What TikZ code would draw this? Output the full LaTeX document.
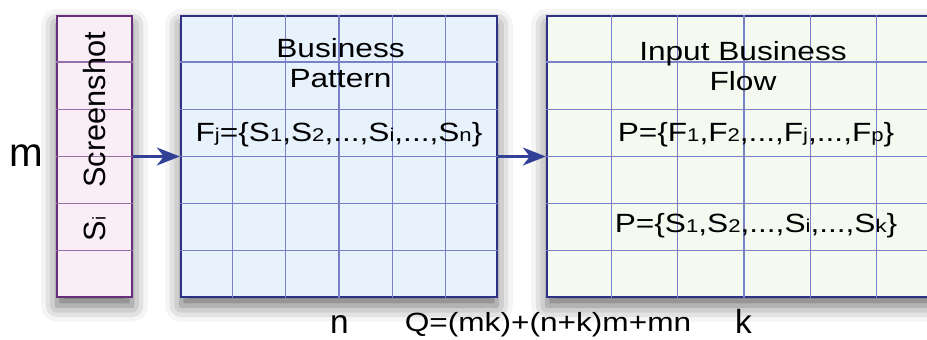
\documentclass[tikz,border=0pt]{standalone}
\usepackage{fontspec}
\setmainfont{Liberation Sans}[FakeStretch=1.2]
\newfontfamily\plainfont{Liberation Sans}
\usepackage{tikz}
\usepackage{xcolor}
\usetikzlibrary{arrows.meta, calc, shadows.blur}
\definecolor{shotfill}{RGB}{250, 238, 246}
\definecolor{shotline}{RGB}{105, 45, 125}
\definecolor{shotgrid}{RGB}{150, 110, 170}
\definecolor{patfill}{RGB}{232, 242, 252}
\definecolor{flowfill}{RGB}{244, 250, 240}
\definecolor{frame}{RGB}{45, 50, 135}
\definecolor{gridblue}{RGB}{120, 128, 198}
\definecolor{arrowblue}{RGB}{50, 65, 150}
\newcommand{\sbs}[1]{{\fontsize{10.5}{10.5}\selectfont #1}}
\tikzset{
    tablebox/.style={rectangle, draw=frame, line width=1.4pt, inner sep=0pt, minimum height=5.62cm, blur shadow={shadow xshift=0pt, shadow yshift=-5pt, shadow blur radius=9pt, shadow opacity=60}},
    gridline/.style={gridblue, line width=0.6pt},
    txt/.style={font=\fontsize{15}{17}\selectfont, inner sep=0pt, align=center},
    sidetext/.style={font=\plainfont\fontsize{17.5}{17.5}\selectfont, inner sep=0pt, rotate=90},
    dimlabel/.style={font=\plainfont\fontsize{19}{19}\selectfont, inner sep=0pt, anchor=base},
    arr/.style={-{Stealth[length=4.6mm, width=3.6mm, inset=1.4mm]}, line width=1.2pt, arrowblue}
}
\begin{document}
\begin{tikzpicture}[x=0.02cm, y=-0.02cm]
    \useasboundingbox (0,0) rectangle (927,340);
    \node[tablebox, fill=shotfill, draw=shotline, minimum width=1.5cm] (shot) at (94.5,156.5) {};
    \node[tablebox, fill=patfill, minimum width=6.32cm] (pattern) at (339,156.5) {};
    \node[tablebox, fill=flowfill, minimum width=7.88cm] (flow) at (744,156.5) {};
    \foreach \i in {1,...,5} {
        \draw[shotgrid, line width=0.6pt] ($(shot.north west)!\i/6!(shot.south west)$) -- ($(shot.north east)!\i/6!(shot.south east)$);
        \draw[gridline] ($(pattern.north west)!\i/6!(pattern.south west)$) -- ($(pattern.north east)!\i/6!(pattern.south east)$);
        \draw[gridline] ($(pattern.north west)!\i/6!(pattern.north east)$) -- ($(pattern.south west)!\i/6!(pattern.south east)$);
        \draw[gridline] ($(flow.north west)!\i/6!(flow.south west)$) -- ($(flow.north east)!\i/6!(flow.south east)$);
        \draw[gridline] ($(flow.north west)!\i/6!(flow.north east)$) -- ($(flow.south west)!\i/6!(flow.south east)$);
    }
    \node[sidetext] (shotlabel) at (95,110) {Screenshot};
    \node[sidetext] (silabel) at (95,229) {S\sbs{i}};
    \node[txt, anchor=north] (pattitle) at (340.5,38) {Business\\Pattern};
    \node[txt, anchor=base] (fj) at (339,142) {F\sbs{j}=\{S\sbs{1},S\sbs{2},...,S\sbs{i},...,S\sbs{n}\}};
    \node[txt, anchor=north] (flowtitle) at (743,41) {Input Business\\Flow};
    \node[txt, anchor=base] (pf) at (756,142) {P=\{F\sbs{1},F\sbs{2},...,F\sbs{j},...,F\sbs{p}\}};
    \node[txt, anchor=base] (ps) at (756,233) {P=\{S\sbs{1},S\sbs{2},...,S\sbs{i},...,S\sbs{k}\}};
    \node[dimlabel, font=\plainfont\fontsize{23}{23}\selectfont] (mlabel) at (26,167) {m};
    \node[dimlabel] (nlabel) at (339.5,334) {n};
    \node[txt, anchor=base] (qlabel) at (548,332) {Q=(mk)+(n+k)m+mn};
    \node[dimlabel] (klabel) at (743.5,334) {k};
    \draw[arr] (shot) -- (pattern);
    \draw[arr] (pattern) -- (flow);
\end{tikzpicture}
\end{document}
